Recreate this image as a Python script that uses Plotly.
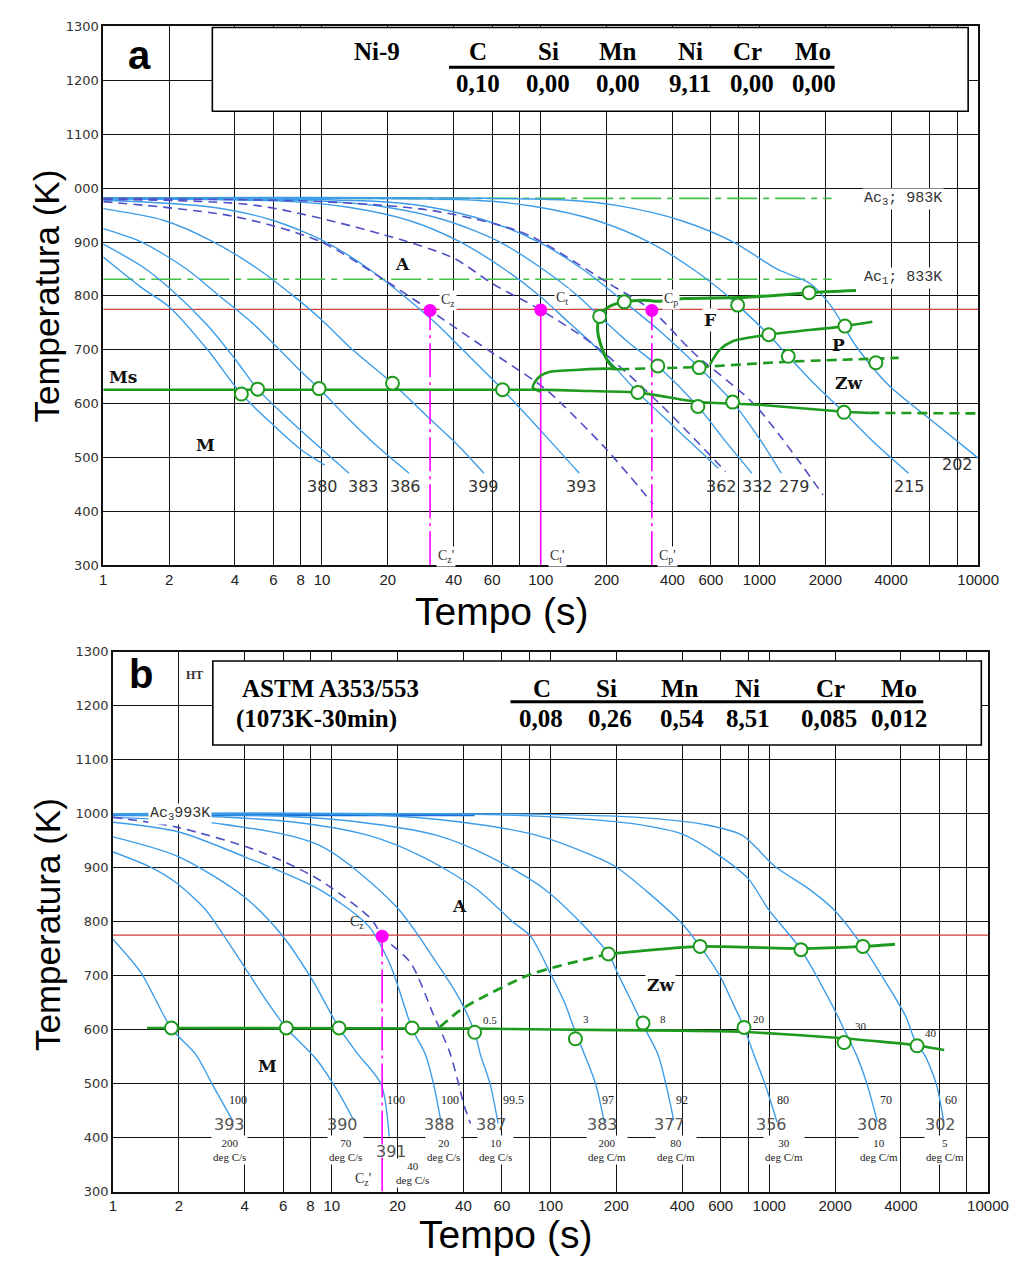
import numpy as np
import plotly.graph_objects as go

W, H = 1036, 1277

# ---------------- shared ----------------
elements = ["C", "Si", "Mn", "Ni", "Cr", "Mo"]
x_tick_vals = [1, 2, 4, 6, 8, 10, 20, 40, 60, 100, 200, 400, 600, 1000, 2000, 4000, 10000]
x_tick_text = ["1", "2", "4", "6", "8", "10", "20", "40", "60", "100", "200", "400", "600", "1000",
               "2000", "4000", "10000"]
x_extra_grid = [80, 800, 6000, 8000]
y_tick_vals = [300, 400, 500, 600, 700, 800, 900, 1000, 1100, 1200, 1300]
a_y_tick_text = ["300", "400", "500", "600", "700", "800", "900", "000", "1100", "1200", "1300"]
b_y_tick_text = ["300", "400", "500", "600", "700", "800", "900", "1000", "1100", "1200", "1300"]
red_line_T = 775

# ---------------- panel a : Ni-9 ----------------
a_alloy = "Ni-9"
a_comp = ["0,10", "0,00", "0,00", "9,11", "0,00", "0,00"]
a_ac3_T, a_ac1_T = 981, 831
a_ac_end_t = 2135

a380_t = [1, 1.5, 2, 3, 4.28, 6, 8, 10.3]
a380_T = [872, 815, 780, 700, 618, 560, 515, 486]
a383_t = [1, 1.5, 2, 3, 4, 5.08, 7, 10, 13.3]
a383_T = [896, 855, 815, 745, 683, 627, 572, 515, 471]
a386_t = [1, 1.5, 2.4, 3.4, 4.8, 6.4, 8, 9.7, 13, 18, 25]
a386_T = [925, 900, 850, 800, 750, 700, 660, 628, 575, 520, 471]
a399_t = [1, 1.9, 3.2, 5.1, 7.4, 10, 13.8, 21, 30, 42, 55]
a399_T = [962, 940, 900, 850, 800, 755, 700, 638, 578, 522, 471]
a393_t = [1, 3.1, 6, 10.4, 16.4, 23.7, 33, 44, 67, 100, 150]
a393_T = [978, 965, 940, 900, 850, 800, 750, 700, 626, 550, 471]
a362_t = [1, 7.3, 13, 25, 43, 68, 99, 135, 184, 278, 400, 648]
a362_T = [980, 975, 965, 940, 900, 850, 800, 750, 700, 621, 560, 480]
a332_t = [1, 11, 19.5, 37, 65, 102, 148, 186, 250, 343, 523, 700, 923]
a332_T = [980, 975, 965, 940, 900, 850, 800, 762, 715, 670, 595, 530, 471]
a279_t = [1, 16.6, 30, 56, 98, 155, 241, 350, 530, 754, 1000, 1257]
a279_T = [981, 976, 966, 940, 900, 850, 789, 735, 667, 603, 535, 471]
a215_t = [1, 52, 94, 180, 313, 495, 716, 795, 1103, 1354, 1800, 2433, 3400, 4800]
a215_T = [981, 977, 966, 940, 900, 850, 800, 783, 728, 688, 635, 584, 525, 471]
a202_t = [1, 129, 229, 437, 760, 1200, 1703, 2135, 2760, 3900, 6520, 10000]
a202_T = [982, 978, 967, 940, 900, 850, 823, 780, 707, 634, 560, 499]

a_end_labels = ["380", "383", "386", "399", "393", "362", "332", "279", "215", "202"]
a_end_t = [10.1, 15.5, 24.2, 55, 154, 669, 975, 1445, 4875, 8017]
a_end_T = [447, 447, 447, 447, 447, 447, 447, 447, 447, 487]

aCz_t = [1, 3.9, 9.7, 19.4, 31.2, 54, 100, 123, 200, 326]
aCz_T = [975, 948, 902, 829, 773, 707, 634, 602, 515, 414]
aCt_t = [1, 5, 19, 40, 60, 100, 178, 356, 700]
aCt_T = [979, 968, 914, 870, 823, 774, 707, 597, 474]
aCp_t = [1, 10, 30, 60, 90, 205, 322, 501, 955, 1950]
aCp_T = [981, 975, 960, 935, 911, 823, 773, 694, 597, 431]

a_C_names = ["z", "t", "p"]
a_C_t = [31.2, 100, 322]
a_C_T = [773, 774, 773]

a_ms_t = [1, 98, 150, 278, 530, 1000, 2433, 3180]
a_ms_T = [626, 626, 624, 621, 603, 598, 585, 583]
a_ms_dash_t = [3180, 10000]
a_ms_dash_T = [583, 582]
a_zw_t = [100, 92, 94, 100, 109, 150, 205, 228]
a_zw_T = [622, 630, 640, 652, 659, 663, 665, 664]
a_zw_dash_t = [228, 530, 1354, 4330]
a_zw_dash_T = [664, 668, 678, 685]
a_f_t = [221, 205, 189, 182, 186, 205, 241, 300, 343, 450, 805, 1178, 1686, 2763]
a_f_T = [664, 676, 707, 737, 762, 780, 789, 792, 790, 795, 797, 801, 806, 810]
a_p_t = [594, 657, 754, 1103, 2458, 3280]
a_p_T = [673, 700, 716, 728, 744, 752]

a_circ_t = [4.28, 5.08, 9.7, 21, 66.9, 186, 241, 795, 1686, 1103, 2458, 343, 530, 1354, 3404, 278, 523, 754, 2433]
a_circ_T = [618, 627, 628, 638, 626, 762, 789, 783, 806, 728, 744, 670, 667, 688, 676, 621, 595, 603, 584]

# ---------------- panel b : ASTM A353/553 ----------------
b_alloy = "ASTM A353/553"
b_treat = "(1073K-30min)"
b_comp = ["0,08", "0,26", "0,54", "8,51", "0,085", "0,012"]
b_ac3_T = 997
b_ac3_end_t = 45

b393_t = [1, 1.34, 1.85, 2.39, 2.84, 3.55]
b393_T = [767, 706, 602, 554, 499, 429]
b390_t = [1, 1.5, 1.96, 2.65, 3.2, 3.86, 5, 6.2, 8.5, 10.5, 12.6]
b390_T = [929, 900, 871, 822, 775, 725, 655, 603, 545, 490, 432]
b391_t = [1, 2, 4, 6, 8.2, 10.8, 13.2, 16.8, 18.3]
b391_T = [957, 920, 845, 772, 690, 603, 554, 499, 402]
b388_t = [1, 2, 4, 8.8, 14.7, 18.5, 23.3, 26.8, 29.2, 31.6]
b388_T = [984, 966, 920, 859, 792, 720, 602, 554, 499, 429]
b387_t = [1, 3.1, 8.8, 19.7, 30, 38, 45, 47.8, 53, 57.6]
b387_T = [993, 981, 941, 828, 725, 660, 595, 554, 499, 426]
b383_t = [1, 2.6, 6.5, 14.6, 26, 46, 67, 81, 101, 116, 130, 143, 161, 176]
b383_T = [998, 995, 985, 960, 920, 860, 800, 773, 700, 650, 595, 554, 499, 429]
b377_t = [1, 5.3, 13, 30, 53, 94, 136, 184, 205, 236, 265, 310, 337, 366]
b377_T = [999, 996, 985, 960, 920, 860, 800, 740, 700, 650, 608, 554, 499, 432]
b356_t = [1, 15, 38, 86, 150, 198, 396, 483, 594, 680, 767, 850, 956, 1085]
b356_T = [1000, 998, 985, 960, 925, 902, 798, 754, 700, 650, 604, 554, 499, 429]
b308_t = [1, 40, 110, 250, 400, 573, 800, 994, 1396, 1975, 2200, 2498, 2800, 3122]
b308_T = [1000, 999, 993, 980, 962, 926, 880, 822, 748, 639, 600, 554, 499, 429]
b302_t = [1, 80, 250, 500, 750, 1063, 1500, 1975, 2680, 3500, 4200, 4740, 5114, 5806, 6274]
b302_T = [1000, 999, 993, 980, 960, 902, 862, 822, 754, 680, 625, 570, 554, 499, 429]

b_end_labels = ["393", "390", "391", "388", "387", "383", "377", "356", "308", "302"]
b_end_t = [3.40, 11.2, 18.7, 31.2, 54, 173, 349, 1027, 2967, 6087]
b_end_T = [424, 424, 374, 424, 424, 424, 424, 424, 424, 424]

b_pct_labels = ["100", "100", "100", "99.5", "97", "92", "80", "70", "60"]
b_pct_t = [3.74, 19.7, 34.6, 67.5, 184, 400, 1157, 3402, 6745]
b_pct_T = [470, 470, 470, 470, 470, 470, 470, 470, 470]

b_rate_labels = ["200<br>deg C/s", "70<br>deg C/s", "40<br>deg C/s", "20<br>deg C/s", "10<br>deg C/s",
                 "200<br>deg C/m", "80<br>deg C/m", "30<br>deg C/m", "10<br>deg C/m", "5<br>deg C/m"]
b_rate_t = [3.40, 11.6, 23.3, 32.3, 56.2, 181, 376, 1165, 3187, 6344]
b_rate_T = [376, 376, 334, 376, 376, 376, 376, 376, 376, 376]

b_ret_labels = ["0.5", "3", "8", "20", "30", "40"]
b_ret_t = [53, 146, 326, 895, 2630, 5495]
b_ret_T = [618, 619, 619, 619, 606, 593]

bCz_t = [1, 1.95, 4.74, 8.8, 15.2, 17, 22.9, 29.2, 34.5, 37.7, 40.3, 43.1]
bCz_T = [993, 975, 929, 877, 804, 773, 724, 627, 560, 505, 459, 426]
b_C_t = [17.0]
b_C_T = [773]

b_ms_t = [1.43, 45, 100, 395, 755, 2180, 4700, 6310]
b_ms_T = [603, 602, 600, 598, 596, 584, 571, 562]
b_zw_dash_t = [31.3, 39.7, 78.6, 110, 184]
b_zw_dash_T = [605, 639, 700, 718, 740]
b_zw_t = [184, 483, 1396, 2680, 3759]
b_zw_T = [740, 754, 750, 754, 758]

b_circ_t = [1.85, 6.2, 10.8, 23.3, 45, 130, 265, 767, 2200, 4740, 184, 483, 1396, 2680]
b_circ_T = [603, 603, 603, 603, 595, 583, 612, 604, 576, 570, 740, 754, 748, 754]

# ---------------- styling ----------------
BLUE = "#3d9de8"
PURPLE = "#4f4fc6"
GREEN = "#1e9a1e"
LGREEN = "#45bf45"
RED = "#d03c3c"
MAG = "#ff00ff"
SANS = "Liberation Sans, Arial, sans-serif"
SERIF = "Liberation Serif, Times New Roman, serif"
WIDE = "DejaVu Sans, sans-serif"
WSERIF = "DejaVu Serif, serif"
MONO = "Liberation Mono, monospace"
DASHDOT = "34px,5px,3px,5px"


def P(x, y):
    return x / W, 1 - y / H


fig = go.Figure()


def line(t, T, ax, color, width, dash="solid", shape="spline", smoothing=0.8):
    xa, ya = ax
    fig.add_trace(go.Scatter(x=t, y=T, xaxis=xa, yaxis=ya, mode="lines", hoverinfo="skip",
                             line=dict(color=color, width=width, dash=dash, shape=shape,
                                       smoothing=smoothing if shape == "spline" else None)))


A = ("x", "y")
B = ("x2", "y2")

# reference lines
line([1, 10000], [red_line_T, red_line_T], A, RED, 1.2, shape="linear")
line([1, 10000], [red_line_T, red_line_T], B, RED, 1.2, shape="linear")
line([1, a_ac_end_t], [a_ac3_T, a_ac3_T], A, LGREEN, 1.6, dash="30px,6px,6px,6px", shape="linear")
line([1, a_ac_end_t], [a_ac1_T, a_ac1_T], A, LGREEN, 1.6, dash="30px,6px,6px,6px", shape="linear")
line([1, b_ac3_end_t], [b_ac3_T, b_ac3_T], B, "#1b6fd6", 2.2, shape="linear")

# cooling curves
for t, T in [(a380_t, a380_T), (a383_t, a383_T), (a386_t, a386_T), (a399_t, a399_T), (a393_t, a393_T),
             (a362_t, a362_T), (a332_t, a332_T), (a279_t, a279_T), (a215_t, a215_T), (a202_t, a202_T)]:
    line(t, T, A, BLUE, 1.4)
for t, T in [(b393_t, b393_T), (b390_t, b390_T), (b391_t, b391_T), (b388_t, b388_T), (b387_t, b387_T),
             (b383_t, b383_T), (b377_t, b377_T), (b356_t, b356_T), (b308_t, b308_T), (b302_t, b302_T)]:
    line(t, T, B, BLUE, 1.4)

# critical-rate dashed curves
for t, T in [(aCz_t, aCz_T), (aCt_t, aCt_T), (aCp_t, aCp_T)]:
    line(t, T, A, PURPLE, 1.6, dash="9px,6px")
line(bCz_t, bCz_T, B, PURPLE, 1.6, dash="9px,6px")

# magenta verticals + dots
a_C_dash = [DASHDOT, "solid", DASHDOT]
for t, T, d in zip(a_C_t, a_C_T, a_C_dash):
    line([t, t], [300, T], A, MAG, 1.6, dash=d, shape="linear")
for t, T in zip(b_C_t, b_C_T):
    line([t, t], [300, T], B, MAG, 1.6, dash=DASHDOT, shape="linear")

# transformation lines
line(a_ms_t, a_ms_T, A, GREEN, 2.6, shape="spline", smoothing=0.4)
line(a_ms_dash_t, a_ms_dash_T, A, GREEN, 2.6, dash="10px,6px", shape="linear")
line(a_zw_t, a_zw_T, A, GREEN, 2.6, shape="spline", smoothing=0.6)
line(a_zw_dash_t, a_zw_dash_T, A, GREEN, 2.6, dash="10px,6px", shape="spline", smoothing=0.4)
line(a_f_t, a_f_T, A, GREEN, 3, shape="spline", smoothing=0.8)
line(a_p_t, a_p_T, A, GREEN, 2.6, shape="spline", smoothing=0.8)
line(b_ms_t, b_ms_T, B, GREEN, 2.6, shape="spline", smoothing=0.4)
line(b_zw_dash_t, b_zw_dash_T, B, GREEN, 2.8, dash="10px,6px", shape="spline", smoothing=0.8)
line(b_zw_t, b_zw_T, B, GREEN, 2.8, shape="spline", smoothing=0.6)

# markers
circ = dict(symbol="circle", size=13, color="white", line=dict(color=GREEN, width=2))
fig.add_trace(go.Scatter(x=a_circ_t, y=a_circ_T, xaxis="x", yaxis="y", mode="markers", marker=circ,
                         hoverinfo="skip"))
fig.add_trace(go.Scatter(x=b_circ_t, y=b_circ_T, xaxis="x2", yaxis="y2", mode="markers", marker=circ,
                         hoverinfo="skip"))
fig.add_trace(go.Scatter(x=a_C_t, y=a_C_T, xaxis="x", yaxis="y", mode="markers",
                         marker=dict(size=13, color=MAG), hoverinfo="skip"))
fig.add_trace(go.Scatter(x=b_C_t, y=b_C_T, xaxis="x2", yaxis="y2", mode="markers",
                         marker=dict(size=13, color=MAG), hoverinfo="skip"))

# ---------------- annotations ----------------
ann = []


def dtext(txt, t, T, panel, size, family, color="#222", **kw):
    xr, yr = ("x", "y") if panel == "a" else ("x2", "y2")
    ann.append(dict(text=txt, x=float(np.log10(t)), y=T, xref=xr, yref=yr, showarrow=False,
                    xanchor="center", yanchor="middle",
                    font=dict(size=size, family=family, color=color), **kw))


def ptext(txt, x, y, size, family, color="black", xanchor="center", **kw):
    px, py = P(x, y)
    ann.append(dict(text=txt, x=px, y=py, xref="paper", yref="paper", showarrow=False,
                    xanchor=xanchor, yanchor="middle",
                    font=dict(size=size, family=family, color=color), **kw))


for lab, t, T in zip(a_end_labels, a_end_t, a_end_T):
    dtext(lab, t, T, "a", 16, WIDE, "#333")
for lab, t, T in zip(b_end_labels, b_end_t, b_end_T):
    dtext(lab, t, T, "b", 16, WIDE, "#555")
for lab, t, T in zip(b_pct_labels, b_pct_t, b_pct_T):
    dtext(lab, t, T, "b", 12, SERIF, "#222")
for lab, t, T in zip(b_rate_labels, b_rate_t, b_rate_T):
    dtext(lab, t, T, "b", 11, SERIF, "#222", bgcolor="white", borderpad=1)
for lab, t, T in zip(b_ret_labels, b_ret_t, b_ret_T):
    dtext(lab, t, T, "b", 11, SERIF, "#222")

# panel a labels
dtext("<b>a</b>", 1.467, 1247, "a", 40, SANS, "black")
dtext("<b>Ms</b>", 1.228, 649, "a", 17, WSERIF, "#111")
dtext("<b>M</b>", 2.94, 523, "a", 17, WSERIF, "#111")
dtext("<b>A</b>", 23.3, 859, "a", 17, WSERIF, "#111")
dtext("<b>F</b>", 593, 755, "a", 17, WSERIF, "#111", bgcolor="white")
dtext("<b>P</b>", 2295, 708, "a", 17, WSERIF, "#111")
dtext("<b>Zw</b>", 2541, 638, "a", 17, WSERIF, "#111")
dtext("Ac<sub>3</sub>; 983K", 4550, 980, "a", 15, MONO, "#333", bgcolor="white")
dtext("Ac<sub>1</sub>; 833K", 4550, 833, "a", 15, MONO, "#333", bgcolor="white")
for nm, t, T in zip(a_C_names, [37.7, 125, 393], [792, 795, 793]):
    dtext("C<sub>%s</sub>" % nm, t, T, "a", 14, SERIF, "#333", bgcolor="white")
for nm, t in zip(a_C_names, [36.9, 118.7, 379]):
    dtext("C<sub>%s</sub>'" % nm, t, 316, "a", 14, SERIF, "#333", bgcolor="white")

# panel b labels
dtext("<b>b</b>", 1.34, 1259, "b", 40, SANS, "black")
dtext("<b>HT</b>", 2.36, 1257, "b", 12, SERIF, "#333")
dtext("<b>M</b>", 5.08, 532, "b", 17, WSERIF, "#111")
dtext("<b>A</b>", 38.4, 828, "b", 17, WSERIF, "#111")
dtext("<b>Zw</b>", 320, 682, "b", 17, WSERIF, "#111", bgcolor="white")
dtext("Ac<sub>3</sub>993K", 2.02, 1000, "b", 15, MONO, "#333", bgcolor="white")
dtext("C<sub>z</sub>", 13, 798, "b", 14, SERIF, "#333")
dtext("C<sub>z</sub>'", 13.95, 323, "b", 14, SERIF, "#333", bgcolor="white")

# headers (composition boxes)
HF = 25
ptext("<b>%s</b>" % a_alloy, 382, 45, HF, SERIF)
a_head_x = [486, 558, 629, 703, 762, 829]
a_val_x = [486, 557, 629, 703, 766, 830]
for el, x in zip(elements, a_head_x):
    ptext("<b>%s</b>" % el, x, 45, HF, SERIF)
for v, x in zip(a_comp, a_val_x):
    ptext("<b>%s</b>" % v, x, 77, HF, SERIF)

ptext("<b>%s</b>" % b_alloy, 242, 690, HF, SERIF, xanchor="left")
ptext("<b>%s</b>" % b_treat, 236, 720, HF, SERIF, xanchor="left")
b_head_x = [551, 617, 693, 762, 847, 917]
b_val_x = [550, 621, 695, 762, 845, 917]
for el, x in zip(elements, b_head_x):
    ptext("<b>%s</b>" % el, x, 690, HF, SERIF)
for v, x in zip(b_comp, b_val_x):
    ptext("<b>%s</b>" % v, x, 720, HF, SERIF)

# axis titles
ptext("Temperatura (K)", 44, 292, 35, SANS, textangle=-90)
ptext("Temperatura (K)", 44, 928, 35, SANS, textangle=-90)
ptext("Tempo (s)", 510, 612, 39, SANS)
ptext("Tempo (s)", 514, 1242, 39, SANS)

# ---------------- shapes ----------------
shapes = []


def prect(x0, y0, x1, y1):
    a0, b0 = P(x0, y0)
    a1, b1 = P(x1, y1)
    shapes.append(dict(type="rect", xref="paper", yref="paper", x0=a0, x1=a1, y0=b1, y1=b0,
                       line=dict(color="black", width=1.6), fillcolor="white", layer="above"))


def pline(x0, y, x1, w):
    a0, b0 = P(x0, y)
    a1, _ = P(x1, y)
    shapes.append(dict(type="line", xref="paper", yref="paper", x0=a0, x1=a1, y0=b0, y1=b0,
                       line=dict(color="black", width=w), layer="above"))


prect(213.5, 20.7, 988, 105.5)
pline(456, 61, 851, 3)
prect(214, 661.7, 1001.5, 746.7)
pline(519, 703, 942, 3)


# ---------------- axes ----------------
def xax(d0, d1, anchor):
    return dict(type="log", range=[0, 4], domain=[d0 / W, d1 / W], anchor=anchor,
                tickmode="array", tickvals=x_tick_vals, ticktext=x_tick_text,
                showgrid=True, gridcolor="#111", gridwidth=1.4, zeroline=False,
                minor=dict(tickmode="array", tickvals=x_extra_grid, showgrid=True,
                           gridcolor="#111", gridwidth=1.4, ticks=""),
                showline=True, linecolor="#111", linewidth=1.6, mirror=True, ticks="",
                tickfont=dict(family=SANS, size=15, color="#222"))


def yax(top, bot, anchor, text):
    return dict(range=[300, 1300], domain=[1 - bot / H, 1 - top / H], anchor=anchor,
                tickmode="array", tickvals=y_tick_vals, ticktext=text,
                showgrid=True, gridcolor="#111", gridwidth=1.4, zeroline=False,
                showline=True, linecolor="#111", linewidth=1.6, mirror=True, ticks="",
                tickfont=dict(family=WIDE, size=13, color="#333"))


fig.update_layout(
    width=W, height=H, autosize=False,
    margin=dict(l=0, r=0, t=0, b=0),
    paper_bgcolor="white", plot_bgcolor="white",
    showlegend=False,
    xaxis=xax(101.7, 998.3, "y"),
    yaxis=yax(19.7, 565, "x", a_y_tick_text),
    xaxis2=xax(111.7, 1008.3, "y2"),
    yaxis2=yax(652.3, 1198.6, "x2", b_y_tick_text),
    annotations=ann,
    shapes=shapes,
)

fig.write_html("out.html")
